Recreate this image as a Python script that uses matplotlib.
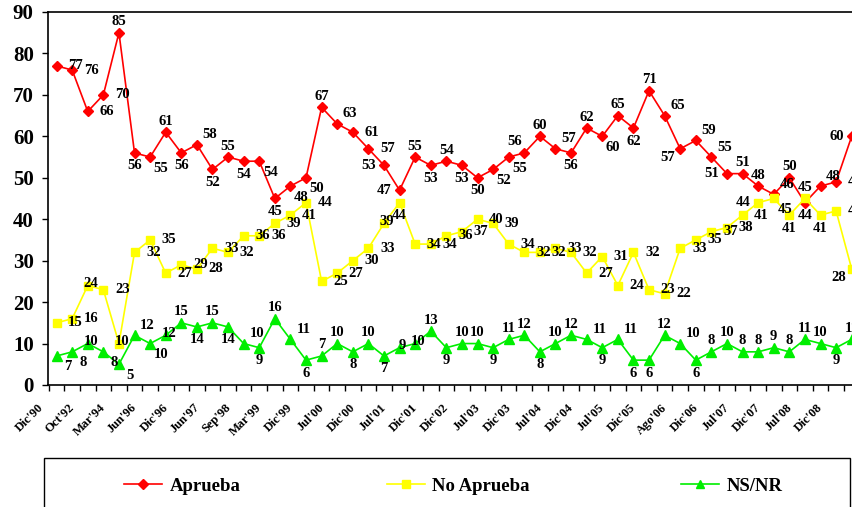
import matplotlib
matplotlib.use('Agg')
import matplotlib.pyplot as plt
from matplotlib.lines import Line2D
from matplotlib.patches import Rectangle
from matplotlib.transforms import ScaledTranslation
import numpy as np

# ---------------- data ----------------
tick_labels = ["Dic'90", "Oct'92", "Mar'94", "Jun'96", "Dic'96", "Jun'97", "Sep'98",
               "Mar'99", "Dic'99", "Jul'00", "Dic'00", "Jul'01", "Dic'01", "Dic'02",
               "Jul'03", "Dic'03", "Jul'04", "Dic'04", "Jul'05", "Dic'05", "Ago'06",
               "Dic'06", "Jul'07", "Dic'07", "Jul'08", "Dic'08"]

aprueba = [77, 76, 66, 70, 85, 56, 55, 61, 56, 58,
           52, 55, 54, 54, 45, 48, 50, 67, 63, 61,
           57, 53, 47, 55, 53, 54, 53, 50, 52, 55,
           56, 60, 57, 56, 62, 60, 65, 62, 71, 65,
           57, 59, 55, 51, 51, 48, 46, 50, 44, 48,
           49, 60]

no_aprueba = [15, 16, 24, 23, 10, 32, 35, 27, 29, 28,
              33, 32, 36, 36, 39, 41, 44, 25, 27, 30,
              33, 39, 44, 34, 34, 36, 37, 40, 39, 34,
              32, 32, 33, 32, 27, 31, 24, 32, 23, 22,
              33, 35, 37, 38, 41, 44, 45, 41, 45, 41,
              42, 28]

ns_nr = [7, 8, 10, 8, 5, 12, 10, 12, 15, 14,
         15, 14, 10, 9, 16, 11, 6, 7, 10, 8,
         10, 7, 9, 10, 13, 9, 10, 10, 9, 11,
         12, 8, 10, 12, 11, 9, 11, 6, 6, 12,
         10, 6, 8, 10, 8, 8, 9, 8, 11, 10,
         9, 11]

series_names = ["Aprueba", "No Aprueba", "NS/NR"]

# ---------------- styling ----------------
# label placement codes per point (a above, b below, r right, l left,
# e above-right, f below-right, g above-left, h below-left, c on point)
place_red = "rrrrabfabe" "babfbffaer" "rllababbff" "gaebafabae" "heelaaeabe" "rl"
place_yel = "rrcrcrrrrr" "rrrrrrrrrr" "rcbrrrrrrr" "rrrrrrrrrr" "rrrrrlfbab" "rh"
place_grn = "ffcffefcab" "abebaebaab" "abccabaaba" "abaaebebba" "ebaaaaaaaa" "ba"
offsets = {'a': (0, 11), 'b': (0, -13), 'r': (19, 0), 'l': (-15, 0),
           'e': (13, 10), 'f': (11, -11), 'g': (-10, 11), 'h': (-13, -9),
           'c': (3, 2)}

SERIF = ['Liberation Serif', 'DejaVu Serif']
W, H = 852, 507
fig = plt.figure(figsize=(W / 100, H / 100), dpi=100)
ax = fig.add_axes([48 / W, 1 - 385 / H, (W - 48) / W, (385 - 12) / H])

n = len(aprueba)
x = np.arange(n)

styles = [
    (aprueba, '#FF0000', 'D', 5.5, place_red),
    (no_aprueba, '#FFFF00', 's', 6.0, place_yel),
    (ns_nr, '#00EE00', '^', 7.0, place_grn),
]

for (vals, col, mk, ms, place), name in zip(styles, series_names):
    ax.plot(x, vals, color=col, marker=mk, ms=ms, lw=1.2,
            markeredgecolor=col, label=name, zorder=2)

for (vals, col, mk, ms, place) in styles:
    for i, v in enumerate(vals):
        dx, dy = offsets[place[i]]
        ax.annotate(str(v), (x[i], v), xytext=(dx, dy), textcoords='offset pixels',
                    ha='center', va='center', fontsize=10.5, fontweight='bold',
                    family=SERIF, color='black', zorder=4, annotation_clip=False)

ax.set_ylim(0, 90)
ax.set_xlim(-0.55, n - 1 + 0.02)
ax.set_yticks(range(0, 91, 10))
ax.set_yticklabels([str(v) for v in range(0, 91, 10)], fontsize=15,
                   fontweight='bold', family=SERIF)
ax.tick_params(axis='y', direction='out', length=4.3, width=1, pad=6)

ax.set_xticks(x[::2])
ax.set_xticklabels(tick_labels, rotation=45, ha='right', va='center',
                   rotation_mode='anchor', fontsize=9, fontweight='bold', family=SERIF)
ax.set_xticks(np.arange(-0.5, n - 0.5, 1), minor=True)
ax.tick_params(axis='x', which='major', length=0, pad=15)
ax.tick_params(axis='x', which='minor', direction='out', length=4.3, width=1)
shift = ScaledTranslation(-15 / 100, 0, fig.dpi_scale_trans)
for lab in ax.get_xticklabels():
    lab.set_transform(lab.get_transform() + shift)

for s in ['left', 'bottom', 'top']:
    ax.spines[s].set_linewidth(1.2)
    ax.spines[s].set_color('black')
ax.spines['right'].set_visible(False)

# legend box
fig.add_artist(Rectangle((44 / W, -0.2), 806 / W, 0.2 + 1 - 458 / H,
                         transform=fig.transFigure, fill=False,
                         edgecolor='black', lw=1.0))
handles = ax.get_lines()
leg_x = [115, 378, 672]
for h, name, lx in zip(handles, series_names, leg_x):
    hl = Line2D([], [], color=h.get_color(), marker=h.get_marker(),
                ms=h.get_markersize() * 0.85, lw=1.2)
    fig.legend([hl], [name], loc='center left', bbox_to_anchor=(lx / W, 1 - 486 / H),
               frameon=False, borderpad=0, handlelength=2.0, handletextpad=0.4,
               prop=dict(family=SERIF, weight='bold', size=13.5))

fig.savefig('out.png', dpi=100)
